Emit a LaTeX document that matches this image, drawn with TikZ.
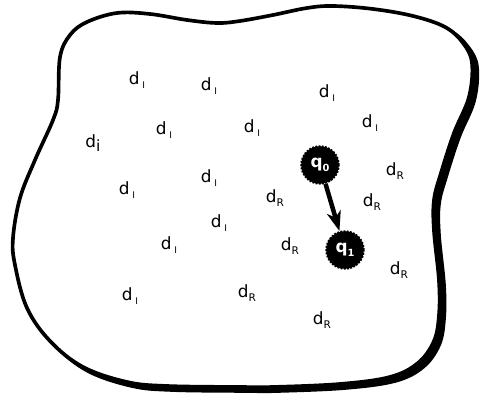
\documentclass[tikz,border=0pt]{standalone}
\usepackage{fontspec}
\setmainfont{DejaVu Sans}
\usetikzlibrary{arrows.meta}

% label helpers
\newcommand{\dI}{d\kern2pt\raisebox{-0.45ex}{\fontsize{6.5}{7}\selectfont I}}
\newcommand{\dR}{d\raisebox{-0.45ex}{\fontsize{7.5}{8}\selectfont R}}
\newcommand{\di}{d\raisebox{-0.35ex}{\fontsize{11}{12}\selectfont i}}

\begin{document}
\begin{tikzpicture}[
  x=0.025cm, y=-0.025cm,
  every node/.style={font=\fontsize{12}{14}\selectfont, inner sep=0pt},
  blob/.style={line width=2.6pt, line join=round},
  qnode/.style={circle, fill=black, draw=black, densely dotted, line width=1.3pt,
    minimum size=0.94cm, text=white, font=\fontsize{12}{13}\selectfont\bfseries},
  link/.style={-{Stealth[length=14pt, width=10pt, inset=4pt]}, line width=3.2pt}
]
  \useasboundingbox (0,0) rectangle (480,398);

  % outline of the region, shadow first
  \def\blobpath{plot[smooth cycle, tension=0.6] coordinates {
    (60,57) (70,35) (87,22) (117,13) (150,14) (187,20) (217,23) (240,21)
    (273,15) (307,8) (333,6) (373,9) (413,16) (445,27) (463,43) (472,63)
    (469,97) (454,133) (441,173) (434,200) (434,231) (439,281) (439,315)
    (434,341) (418,363) (390,377) (340,384) (273,387) (240,387) (167,386)
    (127,382) (83,367) (50,341) (27,308) (15,265) (13,238) (20,198)
    (35,160) (53,120) (58,100)}}
  \filldraw[blob, shift={(5,4)}] \blobpath;
  \draw[blob, fill=white] \blobpath;

  % d_I labels
  \node (d1)  at (137,80)  {\dI};
  \node (d2)  at (209,86)  {\dI};
  \node (d3)  at (327,93)  {\dI};
  \node (d4)  at (370,123) {\dI};
  \node (d5)  at (164,130) {\dI};
  \node (d6)  at (252,128) {\dI};
  \node (d7)  at (93,143)  {\di};
  \node (d8)  at (209,178) {\dI};
  \node (d9)  at (127,190) {\dI};
  \node (d10) at (219,223) {\dI};
  \node (d11) at (169,245) {\dI};
  \node (d12) at (130,296) {\dI};

  % d_R labels
  \node (d13) at (395,171) {\dR};
  \node (d14) at (275,198) {\dR};
  \node (d15) at (372,202) {\dR};
  \node (d16) at (290,246) {\dR};
  \node (d17) at (399,270) {\dR};
  \node (d18) at (247,293) {\dR};
  \node (d19) at (322,320) {\dR};

  % query points
  \node[qnode] (q0) at (320,165) {q\raisebox{-0.4ex}{\fontsize{7}{8}\selectfont 0}};
  \node[qnode] (q1) at (345,250) {q\raisebox{-0.4ex}{\fontsize{7}{8}\selectfont 1}};
  \draw[link] (q0) -- (q1);
\end{tikzpicture}
\end{document}
